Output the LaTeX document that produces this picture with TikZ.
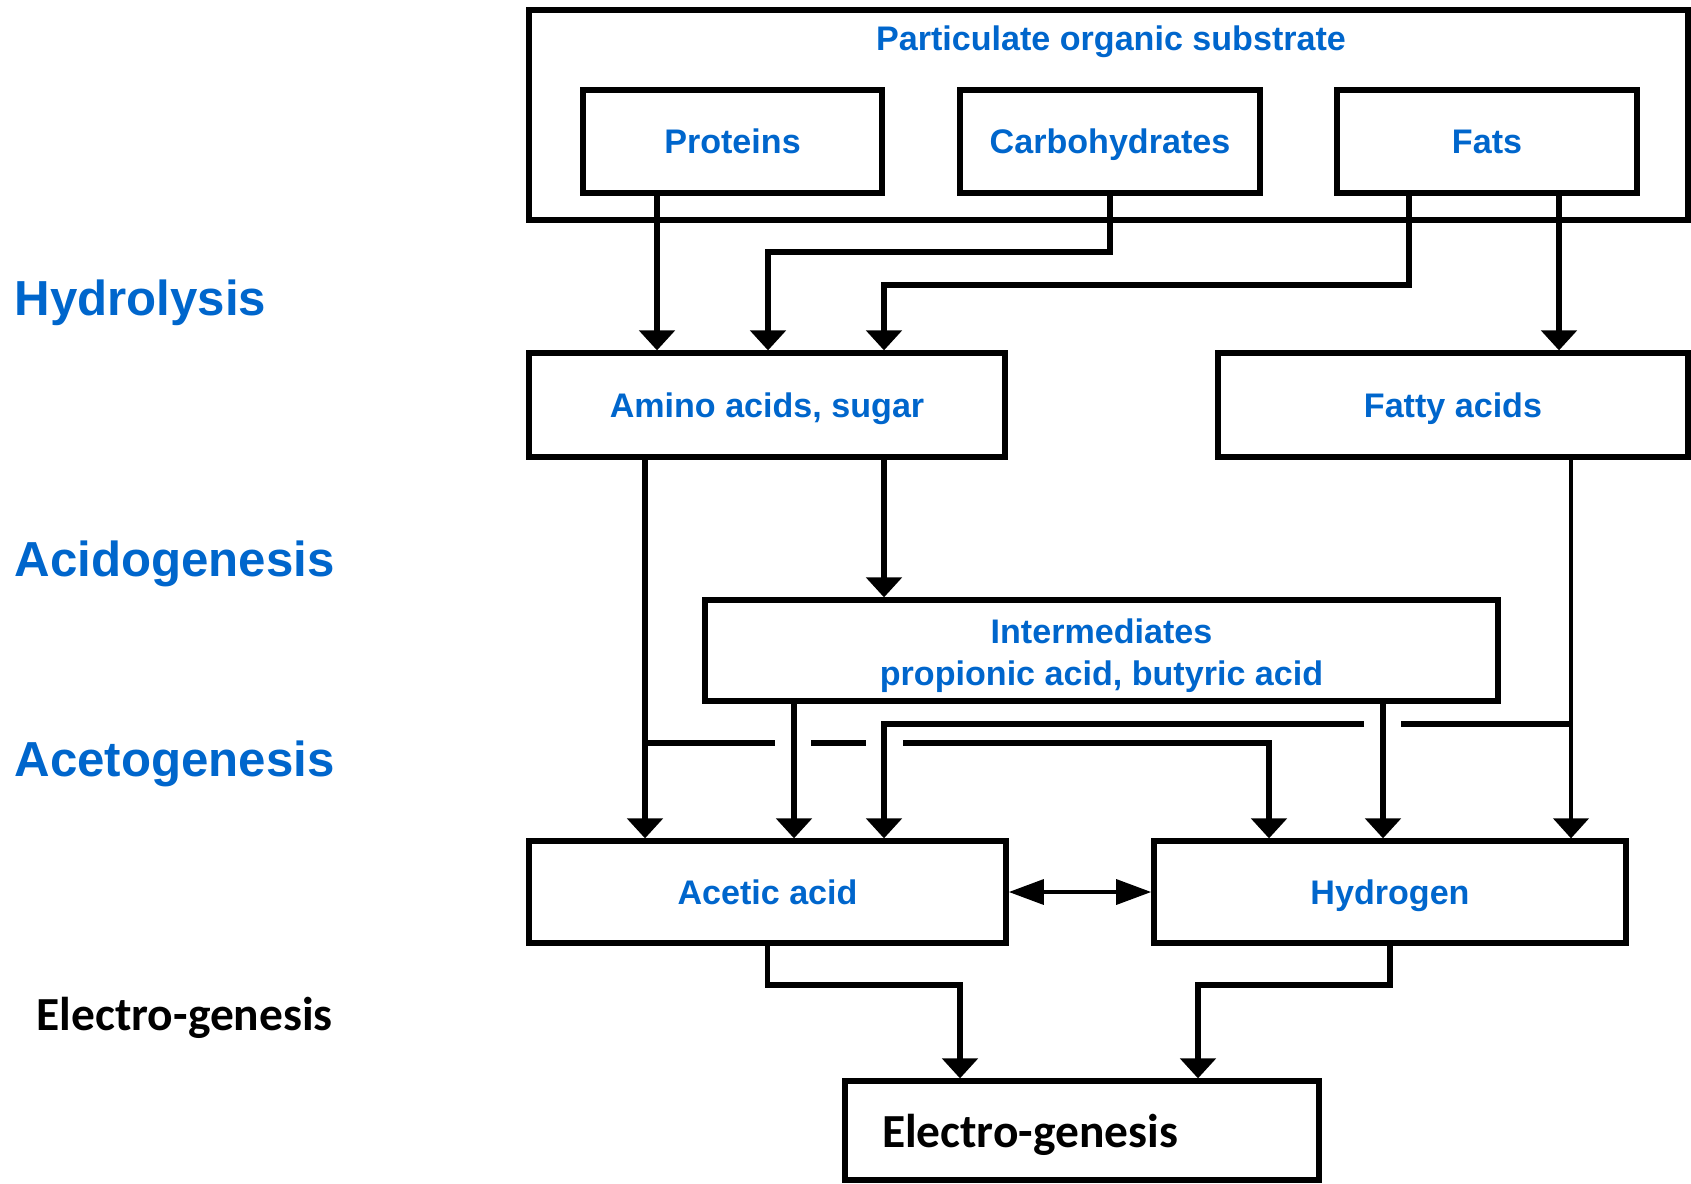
\documentclass[tikz,border=0pt]{standalone}
\usepackage{fontspec}
\setmainfont{Liberation Sans}
\newfontfamily\carlito{Carlito}
\usetikzlibrary{arrows.meta}
\definecolor{stageblue}{RGB}{0,102,204}
\tikzset{
    box/.style={draw=black, line width=1.5pt, rectangle, inner sep=0pt, align=center,
        text height=0.9em, text depth=0.2em,
        text=stageblue, font=\fontsize{9.7}{12}\selectfont\bfseries},
    phase/.style={anchor=base west, inner sep=0pt, text=stageblue, font=\fontsize{14}{16}\selectfont\bfseries},
    flow/.style={line width=1.5pt, -{Triangle[width=10pt,length=5.7pt]}},
    bar/.style={line width=1.5pt},
    link/.style={line width=1.3pt, {Triangle[width=7pt,length=10pt]}-{Triangle[width=7pt,length=10pt]}}
}

\begin{document}
\begin{tikzpicture}
    \useasboundingbox (0,0) rectangle (16.91,-11.83);

    % stages on the left
    \node[phase] (hydro) at (0.14,-3.15) {Hydrolysis};
    \node[phase] (acido) at (0.14,-5.76) {Acidogenesis};
    \node[phase] (aceto) at (0.14,-7.76) {Acetogenesis};
    \node[phase, text=black, font=\carlito\fontsize{13.5}{16}\selectfont\bfseries] (elabel) at (0.36,-10.30) {Electro-genesis};

    % boxes
    \node[box, minimum width=11.59cm, minimum height=2.10cm] (substrate) at (11.085,-1.15) {};
    \node[text=stageblue, font=\fontsize{9.7}{12}\selectfont\bfseries] (title) at (11.11,-0.42) {Particulate organic substrate};
    \node[box, minimum width=2.99cm, minimum height=1.03cm] (proteins) at (7.325,-1.415) {Proteins};
    \node[box, minimum width=3.00cm, minimum height=1.03cm] (carbs) at (11.10,-1.415) {Carbohydrates};
    \node[box, minimum width=3.00cm, minimum height=1.03cm] (fats) at (14.87,-1.415) {Fats};
    \node[box, minimum width=4.76cm, minimum height=1.04cm] (amino) at (7.67,-4.05) {Amino acids, sugar};
    \node[box, minimum width=4.70cm, minimum height=1.04cm] (fatty) at (14.53,-4.05) {Fatty acids};
    \node[box, minimum width=7.93cm, minimum height=1.01cm, text height={}, text depth={}] (inter) at (11.015,-6.505)
        {\rule{0pt}{10pt}Intermediates\\propionic acid, butyric acid};
    \node[box, minimum width=4.77cm, minimum height=1.02cm] (acetic) at (7.675,-8.92) {Acetic acid};
    \node[box, minimum width=4.72cm, minimum height=1.02cm] (hydrogen) at (13.90,-8.92) {Hydrogen};
    \node[box, minimum width=4.74cm, minimum height=0.99cm, text width=4.0cm, inner xsep=0.37cm, align=left,
        text height=12.5pt, text depth=2.7pt,
        text=black, font=\carlito\fontsize{13.5}{16}\selectfont\bfseries] (electro) at (10.82,-11.305) {Electro-genesis};

    % x of the routes
    \coordinate (xp) at (6.57,0);
    \coordinate (xc) at (7.68,0);
    \coordinate (xf) at (8.84,0);
    \coordinate (xfa) at (15.59,0);
    \coordinate (xa) at (6.45,0);
    \coordinate (xi) at (7.94,0);
    \coordinate (xh) at (12.69,0);
    \coordinate (xj) at (13.83,0);
    \coordinate (xt) at (15.71,0);
    \coordinate (xe) at (9.60,0);
    \coordinate (xg) at (11.98,0);

    % hydrolysis
    \draw[flow] (proteins.south -| xp) -- (xp |- amino.north);
    \draw[flow] (carbs.south) -- (11.10,-2.52) -- (7.68,-2.52) -- (xc |- amino.north);
    \draw[flow] (fats.south -| 14.09,0) -- (14.09,-2.85) -- (8.84,-2.85) -- (xf |- amino.north);
    \draw[flow] (fats.south -| xfa) -- (xfa |- fatty.north);

    % acidogenesis
    \draw[flow] (amino.south -| xf) -- (xf |- inter.north);
    \draw[flow] (amino.south -| xa) -- (xa |- acetic.north);
    \draw[bar] (6.45,-7.43) -- (7.75,-7.43);
    \draw[bar] (8.11,-7.43) -- (8.66,-7.43);
    \draw[flow] (9.03,-7.43) -- (12.69,-7.43) -- (xh |- hydrogen.north);

    % acetogenesis
    \draw[flow] (inter.south -| xi) -- (xi |- acetic.north);
    \draw[flow] (inter.south -| xj) -- (xj |- hydrogen.north);
    \draw[flow, line width=1.1pt] (fatty.south -| xt) -- (xt |- hydrogen.north);
    \draw[bar] (15.71,-7.24) -- (14.01,-7.24);
    \draw[flow] (13.64,-7.24) -- (8.84,-7.24) -- (xf |- acetic.north);
    \draw[link] (acetic.east) -- (hydrogen.west);

    % electro-genesis
    \draw[flow] (acetic.south) -- (7.675,-9.85) -- (9.60,-9.85) -- (xe |- electro.north);
    \draw[flow] (hydrogen.south) -- (13.90,-9.85) -- (11.98,-9.85) -- (xg |- electro.north);
\end{tikzpicture}
\end{document}
